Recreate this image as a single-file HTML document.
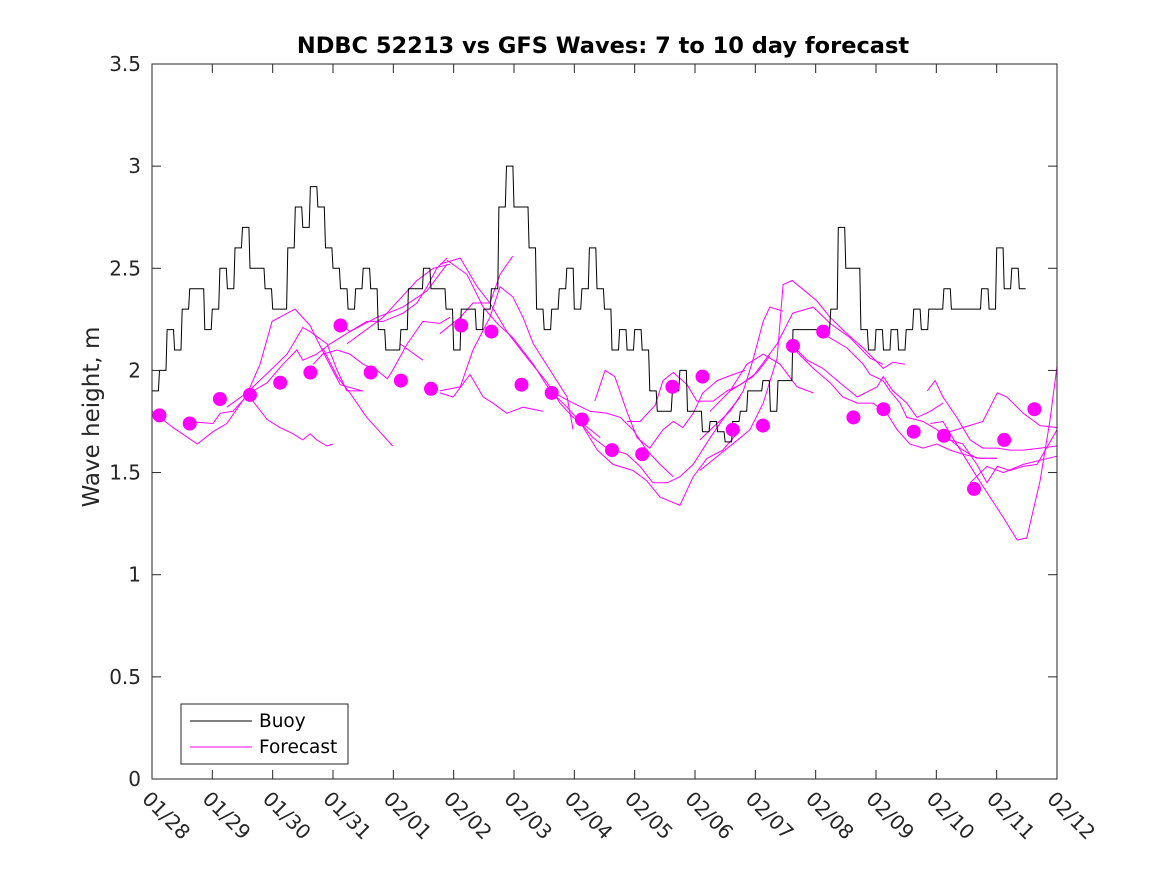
<!DOCTYPE html>
<html><head><meta charset="utf-8"><style>
html,body{margin:0;padding:0;background:#fff;}
svg{display:block;font-family:"DejaVu Sans","Liberation Sans",sans-serif;}
</style></head><body>
<svg id="chart" width="1167" height="875" viewBox="0 0 1167 875" xmlns="http://www.w3.org/2000/svg">
<rect x="0" y="0" width="1167" height="875" fill="#fff"/>
<text x="603" y="53" text-anchor="middle" font-size="22.5" font-weight="bold" fill="#000">NDBC 52213 vs GFS Waves: 7 to 10 day forecast</text>
<text transform="translate(99,417) rotate(-90)" text-anchor="middle" font-size="23" fill="#262626">Wave height, m</text>
<g id="marks"></g>
<rect x="152" y="64" width="905" height="715" fill="none" stroke="#262626" stroke-width="1"/>
<g id="axes"></g>
<g>
<rect x="181" y="704" width="167" height="60" fill="#fff" stroke="#262626" stroke-width="1"/>
<line x1="190" y1="721" x2="252" y2="721" stroke="#000" stroke-width="1"/>
<text x="259" y="727" font-size="18.5" fill="#000">Buoy</text>
<line x1="190" y1="747" x2="252" y2="747" stroke="#ff00ff" stroke-width="1"/>
<text x="259" y="753" font-size="18.5" fill="#000">Forecast</text>
</g>
</svg>
<script>
const xTickLabels=["01/28","01/29","01/30","01/31","02/01","02/02","02/03","02/04","02/05","02/06","02/07","02/08","02/09","02/10","02/11","02/12"];
const yTickValues=[0,0.5,1,1.5,2,2.5,3,3.5];
const yTickLabels=["0","0.5","1","1.5","2","2.5","3","3.5"];
const buoyStart=0;
const buoyStep=0.125;
const buoyValues=[1.9,2.0,2.2,2.1,2.3,2.4,2.4,2.2,2.3,2.5,2.4,2.6,2.7,2.5,2.5,2.4,2.3,2.3,2.6,2.8,2.7,2.9,2.8,2.6,2.5,2.4,2.3,2.4,2.5,2.4,2.2,2.1,2.1,2.2,2.4,2.4,2.5,2.4,2.4,2.3,
2.1,2.3,2.3,2.2,2.3,2.4,2.8,3.0,2.8,2.8,2.6,2.3,2.2,2.3,2.4,2.5,2.3,2.4,2.6,2.4,2.3,2.1,2.2,2.1,2.2,2.1,1.9,1.8,1.8,1.9,2.0,1.8,1.8,1.7,1.75,1.7,1.65,1.75,1.8,
1.9,1.9,1.95,1.8,1.95,1.95,2.2,2.2,2.2,2.2,2.2,2.3,2.7,2.5,2.5,2.2,2.1,2.2,2.1,2.2,2.1,2.2,2.3,2.2,2.3,2.3,2.4,2.3,2.3,2.3,2.3,2.4,2.3,2.6,2.4,2.5,2.4];
const dotStart=0.125;
const dotStep=0.5;
const dotValues=[1.78,1.74,1.86,1.88,1.94,1.99,2.22,1.99,1.95,1.91,2.22,2.19,1.93,1.89,1.76,1.61,1.59,1.92,1.97,1.71,1.73,2.12,2.19,1.77,1.81,1.70,1.68,1.42,1.66,1.81];
const fcDays=[
[0,0.35,0.75,1.01,1.24,1.57,1.79,1.99,2.37,2.62,2.87,3.12,3.48],
[0.58,1.01,1.13,1.34,1.62,1.91,2.17,2.40,2.50,2.73,2.95,3.28,3.73,4.16,4.56,4.89],
[1.62,1.91,2.12,2.34,2.50,2.62,2.73,2.90,3.00],
[1.24,1.57,1.96,2.24,2.50,2.62,2.90,3.07,3.23,3.50],
[2.67,2.83,3.07,3.28,3.50,3.73,3.90,3.99,4.23,4.49,4.77,4.94],
[3.12,3.28,3.56,3.83,4.16,4.39,4.56,4.72,4.89],
[3.23,3.83,4.39,4.66,4.94],
[2.83,3.07,3.28,3.56,3.99],
[4.11,4.49],
[4.77,5.11,5.39,5.60,5.88,6.22,6.55,6.76,6.98,7.14,7.43],
[4.89,5.22,5.49,5.72,5.98,6.32,6.60,6.98,7.26,7.54,7.76,7.97,8.20,8.42,8.64],
[4.77,4.99,5.27,5.49,5.65,5.88,6.15,6.48],
[4.77,5.11,5.32,5.60,5.77,5.98,6.15,6.32,6.60,6.88,6.98],
[4.77,5.11,5.32,5.60,5.77,5.98],
[6.60,6.88,7.09,7.38,7.64,7.97,8.20,8.42,8.75,8.97,9.20,9.46,9.75],
[7.09,7.31,7.54,7.87,8.09,8.30,8.54,8.75,8.97,9.25,9.53,9.75],
[7.34,7.51,7.67,7.87,8.04,8.25,8.47,8.64,8.80,8.97,9.13,9.37,9.63,9.83],
[7.87,8.09,8.34,8.47,8.64,8.87,9.03,9.30,9.53,9.75,10.03,10.24],
[9.58,9.86,10.13,10.41,10.69,10.96],
[9.08,9.58,9.80,9.96,10.13,10.24,10.46],
[9.08,9.75,9.91,10.13,10.36,10.46,10.61,10.86,11.02,11.24,11.52,11.79,12.12,12.28,12.48],
[9.25,9.58,9.96,10.36,10.62,10.96,11.24,11.57,11.90,12.12],
[10.62,10.86,11.12,11.40,11.69,12.02,12.12,12.28,12.51,12.68,12.90,13.11],
[10.62,10.96,11.24,11.45,11.69,11.95,12.18,12.35,12.56,12.78,13.01,13.23,13.44,13.72,14.01],
[11.12,11.52,11.79,11.90,12.12,12.23,12.40,12.51,12.78,13.01,13.23,13.44,13.67,14.01],
[12.85,12.98,13.11,13.34,13.56,13.77,14.01,14.22,14.44,14.72,15],
[12.90,13.11,13.23,13.44,13.67,13.89,14.11,14.34,14.50,14.72,14.88,15],
[13.23,13.44,13.67,13.84,14.01,14.22,14.44,14.67,15],
[13.11,13.44,13.77,14.01,14.17,14.44,14.72,15],
[13.56,13.84,14.11,14.44,15]];
const fcValues=[
[1.80,1.72,1.64,1.70,1.74,1.88,2.03,2.24,2.30,2.22,2.07,1.93,1.90],
[1.75,1.74,1.79,1.80,1.89,1.94,2.03,2.10,2.05,2.08,2.13,2.19,2.26,2.31,2.39,2.52],
[1.87,1.76,1.72,1.69,1.66,1.69,1.66,1.63,1.64],
[1.82,1.89,2.00,2.08,2.21,2.19,2.13,2.00,1.90,1.90],
[2.03,2.08,2.10,2.08,2.03,2.00,1.96,2.00,2.13,2.24,2.23,2.26],
[2.23,2.19,2.24,2.24,2.28,2.33,2.41,2.50,2.55],
[2.13,2.26,2.44,2.50,2.52],
[2.11,1.97,1.89,1.77,1.63],
[2.13,2.05],
[2.52,2.55,2.41,2.33,2.19,2.06,1.94,1.84,1.77,1.74,1.67],
[2.54,2.47,2.31,2.23,2.16,2.03,1.90,1.84,1.80,1.79,1.77,1.71,1.61,1.54,1.48],
[1.89,1.87,1.98,1.87,1.84,1.79,1.82,1.80],
[1.90,1.92,2.10,2.26,2.41,2.36,2.26,2.13,2.00,1.87,1.71],
[2.18,2.26,2.33,2.33,2.47,2.56],
[1.90,1.82,1.75,1.61,1.54,1.51,1.46,1.38,1.34,1.48,1.57,1.61,1.71],
[1.75,1.67,1.62,1.59,1.53,1.45,1.45,1.48,1.54,1.67,1.79,1.87],
[1.85,2.00,1.97,1.80,1.67,1.62,1.71,1.75,1.72,1.79,1.89,1.95,1.98,2.00],
[1.75,1.75,1.83,1.95,1.99,1.93,1.85,1.85,1.90,1.93,1.99,2.07],
[1.90,2.03,2.08,2.03,1.92,1.89],
[1.66,1.80,1.90,2.05,2.24,2.31,2.29],
[1.51,1.67,1.71,1.84,2.06,2.42,2.44,2.38,2.34,2.26,2.18,2.11,2.01,2.04,2.03],
[1.80,1.90,1.97,2.13,2.28,2.31,2.23,2.16,2.06,2.03],
[2.12,2.05,2.01,1.94,1.87,1.92,1.97,1.90,1.84,1.77,1.80,1.84],
[2.11,2.01,1.94,1.87,1.84,1.84,1.79,1.71,1.64,1.62,1.64,1.61,1.59,1.57,1.57],
[2.18,2.11,2.03,1.98,1.95,1.90,1.84,1.77,1.75,1.71,1.66,1.61,1.57,1.57],
[1.90,1.95,1.87,1.77,1.66,1.62,1.62,1.61,1.61,1.62,1.63],
[1.74,1.75,1.69,1.59,1.48,1.38,1.28,1.17,1.18,1.46,1.75,2.02],
[1.66,1.64,1.54,1.45,1.53,1.51,1.53,1.54,1.71],
[1.69,1.72,1.75,1.89,1.87,1.79,1.73,1.72],
[1.45,1.53,1.50,1.54,1.58]];

const X0=152,X1=1057,Y0=779,Y1=64,NDAYS=15,YMAX=3.5;
function xs(d){return X0+(X1-X0)*d/NDAYS;}
function ys(v){return Y0-(Y0-Y1)*v/YMAX;}
const NS="http://www.w3.org/2000/svg";
const marks=document.getElementById('marks');
const axes=document.getElementById('axes');
function mk(tag,attrs,parent){const e=document.createElementNS(NS,tag);for(const k in attrs)e.setAttribute(k,attrs[k]);parent.appendChild(e);return e;}

fcDays.forEach((days,i)=>{
  const pts=days.map((d,j)=>xs(d).toFixed(1)+','+ys(fcValues[i][j]).toFixed(1)).join(' ');
  const pl=mk('polyline',{points:pts,fill:'none',stroke:'#ff00ff','stroke-width':'1'},marks);
  
  
});
let bp=[];
buoyValues.forEach((v,i)=>{
  const t0=buoyStart+i*buoyStep;
  bp.push(xs(t0).toFixed(1)+','+ys(v).toFixed(1));
  bp.push(xs(t0+buoyStep*0.85).toFixed(1)+','+ys(v).toFixed(1));
});
const bl=mk('polyline',{points:bp.join(' '),fill:'none',stroke:'#000','stroke-width':'1'},marks);


dotValues.forEach((v,i)=>{
  const c=mk('circle',{cx:xs(dotStart+i*dotStep).toFixed(1),cy:ys(v).toFixed(1),r:'7',fill:'#ff00ff'},marks);
  
  
});
yTickValues.forEach((v,i)=>{
  const y=ys(v);
  mk('line',{x1:X0,y1:y,x2:X0+9,y2:y,stroke:'#262626'},axes);
  mk('line',{x1:X1,y1:y,x2:X1-9,y2:y,stroke:'#262626'},axes);
  const t=mk('text',{x:141,y:y+7,'text-anchor':'end','font-size':'20',fill:'#262626'},axes);
  t.textContent=yTickLabels[i];
  
  
});
xTickLabels.forEach((lab,i)=>{
  const x=xs(i);
  mk('line',{x1:x,y1:Y0,x2:x,y2:Y0-9,stroke:'#262626'},axes);
  mk('line',{x1:x,y1:Y1,x2:x,y2:Y1+9,stroke:'#262626'},axes);
  const t=mk('text',{transform:'translate('+(x-11)+',800) rotate(45)','font-size':'20',fill:'#262626'},axes);
  t.textContent=lab;
  
  
});
</script>
</body></html>
